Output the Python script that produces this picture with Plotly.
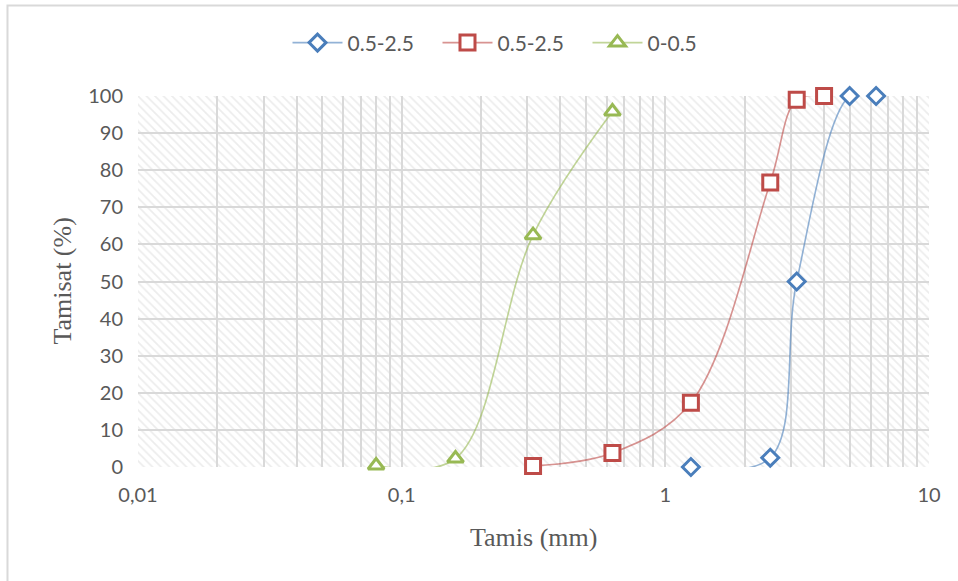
import plotly.graph_objects as go

# ---------------- data ----------------
blue_x = [1.25, 2.5, 3.15, 5.0, 6.3]
blue_y = [0.0, 2.5, 50.0, 100.0, 100.0]
blue_name = "0.5-2.5"

red_x = [0.315, 0.63, 1.25, 2.5, 3.15, 4.0]
red_y = [0.3, 3.8, 17.3, 76.7, 99.0, 100.0]
red_name = "0.5-2.5"

green_x = [0.08, 0.16, 0.315, 0.63]
green_y = [0.4, 2.3, 62.5, 95.8]
green_name = "0-0.5"

x_decades = [0.01, 0.1, 1, 10]
x_decade_labels = ["0,01", "0,1", "1", "10"]
y_ticks = [0, 10, 20, 30, 40, 50, 60, 70, 80, 90, 100]

x_title = "Tamis (mm)"
y_title = "Tamisat (%)"

# ---------------- style ----------------
GRID = "#D9D9D9"
TXT = "#595959"
TICK_FONT = dict(family="Lato", size=20, color=TXT)
TITLE_FONT = dict(family="Liberation Serif", size=26, color=TXT)

# log-axis tick positions: every digit of each decade (minor gridlines), labels only at decades
x_tickvals = []
x_ticktext = []
for i, d in enumerate(x_decades[:-1]):
    for k in range(1, 10):
        x_tickvals.append(d * k)
        x_ticktext.append(x_decade_labels[i] if k == 1 else "")
x_tickvals.append(x_decades[-1])
x_ticktext.append(x_decade_labels[-1])

x_lo, x_hi = x_decades[0], x_decades[-1]
y_lo, y_hi = y_ticks[0], y_ticks[-1]

fig = go.Figure()

# hatched plot-area background (spans the axis range)
fig.add_trace(go.Scatter(
    x=[x_lo, x_hi, x_hi, x_lo, x_lo],
    y=[y_lo, y_lo, y_hi, y_hi, y_lo],
    mode="none", fill="toself", fillcolor="rgba(0,0,0,0)",
    fillpattern=dict(shape="\\", fgcolor="#D9D9D9", size=6, solidity=0.28),
    showlegend=False, hoverinfo="skip",
))

def series(x, y, name, color, line_rgba, symbol, size):
    return go.Scatter(
        x=x, y=y, name=name, mode="lines+markers",
        line=dict(color=line_rgba, width=1.6, shape="spline", smoothing=1.0),
        marker=dict(symbol=symbol, size=size, color="white",
                    line=dict(color=color, width=3)),
        cliponaxis=False,
    )

fig.add_trace(series(blue_x, blue_y, blue_name, "#4A7EBB", "rgba(74,126,187,0.6)", "diamond", 13))
fig.add_trace(series(red_x, red_y, red_name, "#BE4B48", "rgba(190,75,72,0.6)", "square", 15))
fig.add_trace(series(green_x, green_y, green_name, "#98B954", "rgba(152,185,84,0.6)", "triangle-up", 14))

fig.update_xaxes(
    type="log", range=[-2, 1],
    tickvals=x_tickvals, ticktext=x_ticktext,
    showgrid=True, gridcolor=GRID, gridwidth=2,
    showline=False, zeroline=False, ticks="",
    tickfont=TICK_FONT, ticklabelstandoff=14,
)
fig.update_yaxes(
    range=[y_lo, y_hi], tickvals=y_ticks,
    showgrid=True, gridcolor=GRID, gridwidth=2,
    showline=False, zeroline=False, ticks="",
    tickfont=TICK_FONT, ticklabelstandoff=14,
)

# outer chart border (extends past the right/bottom of the picture)
fig.add_shape(type="rect", xref="paper", yref="paper",
              x0=-0.165, x1=1.05, y0=-0.33, y1=1.244,
              line=dict(color=GRID, width=2), fillcolor="rgba(0,0,0,0)", layer="below")

fig.add_annotation(text=x_title, xref="paper", yref="paper", x=0.5, y=-0.189,
                   xanchor="center", yanchor="middle", showarrow=False, font=TITLE_FONT)
fig.add_annotation(text=y_title, xref="paper", yref="paper", x=-0.096, y=0.5,
                   xanchor="center", yanchor="middle", showarrow=False, textangle=-90,
                   font=TITLE_FONT)

fig.update_layout(
    width=958, height=581,
    margin=dict(l=138, r=29, t=96, b=114),
    paper_bgcolor="white", plot_bgcolor="white",
    showlegend=True,
    legend=dict(orientation="h", x=0.189, xanchor="left", y=1.143, yanchor="middle",
                font=dict(family="Lato", size=21, color=TXT),
                entrywidth=85, entrywidthmode="pixels", itemwidth=50,
                bgcolor="rgba(0,0,0,0)"),
)

fig.write_html("out.html", config={"displayModeBar": False},
               post_script="document.body.style.margin='0';document.body.style.overflow='hidden';")
